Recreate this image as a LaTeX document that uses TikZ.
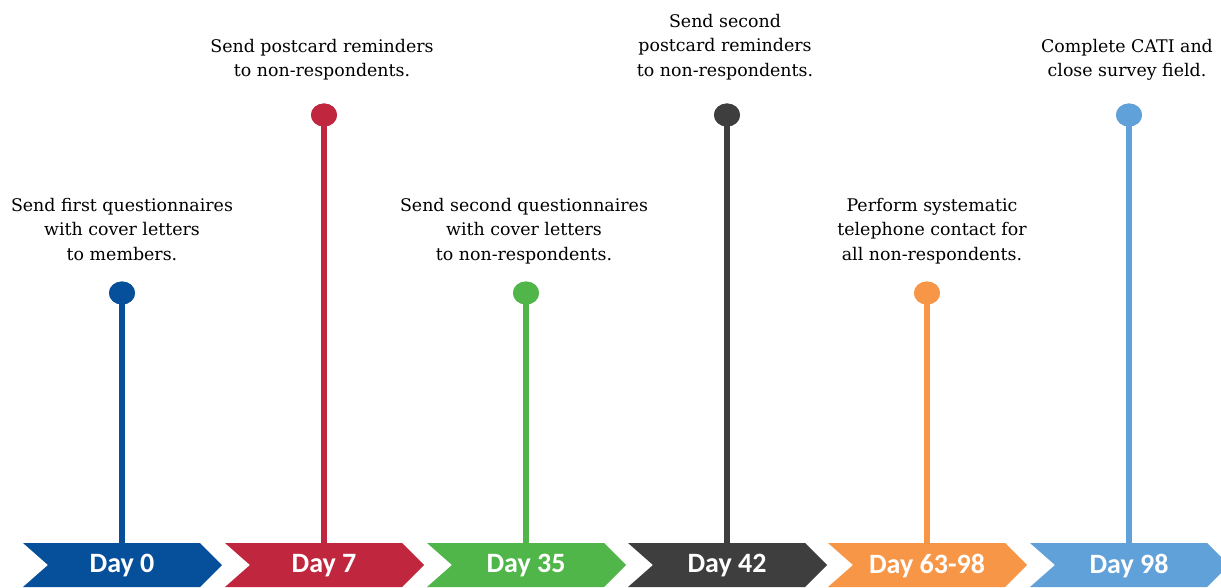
\documentclass[tikz,border=0pt]{standalone}
\usepackage{fontspec}
\newfontfamily\bodyfont{DejaVu Serif}
\newfontfamily\dayfont{Carlito}
\usetikzlibrary{shapes.geometric}
\definecolor{cBlue}{RGB}{6,80,155}
\definecolor{cRed}{RGB}{192,38,62}
\definecolor{cGreen}{RGB}{80,182,74}
\definecolor{cDark}{RGB}{62,62,62}
\definecolor{cOrange}{RGB}{247,150,70}
\definecolor{cLight}{RGB}{95,161,216}
\tikzset{
  pin/.style={ellipse,minimum width=26pt,minimum height=23pt,inner sep=0pt},
  stem/.style={line width=6pt},
  daylabel/.style={text=white,inner sep=0pt,minimum width=150pt,minimum height=44pt,font=\dayfont\bfseries\fontsize{28}{30}\selectfont},
  desc/.style={align=center,inner sep=0pt,anchor=north,font=\bodyfont\fontsize{17.4}{24.5}\selectfont}
}
\begin{document}
\begin{tikzpicture}[x=1pt,y=-1pt]
\useasboundingbox (0,0) rectangle (1221,588);
\clip (0,0) rectangle (1221,588);
\foreach \i/\xo/\cy/\col/\lab in {0/23/293/cBlue/Day 0,1/225/115/cRed/Day 7,2/427/293/cGreen/Day 35,3/628/115/cDark/Day 42,4/828/293/cOrange/Day 63-98,5/1030/115/cLight/Day 98}{
  \fill[\col] (\xo,543) -- (\xo+177,543) -- (\xo+199,565) -- (\xo+177,587) -- (\xo,587) -- (\xo+25,565) -- cycle;
  \node[daylabel] (d\i) at (\xo+99,566) {\lab};
  \node[pin,fill=\col] (c\i) at (\xo+99,\cy) {};
  \draw[stem,\col] (c\i.center) -- (d\i.north);
  \node[pin,fill=\col] at (c\i) {};
}
\node[desc] (t0) at (122,198) {Send first questionnaires\\with cover letters\\to members.};
\node[desc] (t1) at (322,39) {Send postcard reminders\\to non-respondents.};
\node[desc] (t2) at (524,198) {Send second questionnaires\\with cover letters\\to non-respondents.};
\node[desc] (t3) at (725,14) {Send second\\postcard reminders\\to non-respondents.};
\node[desc] (t4) at (932,198) {Perform systematic\\telephone contact for\\all non-respondents.};
\node[desc] (t5) at (1127,39) {Complete CATI and\\close survey field.};
\end{tikzpicture}
\end{document}
